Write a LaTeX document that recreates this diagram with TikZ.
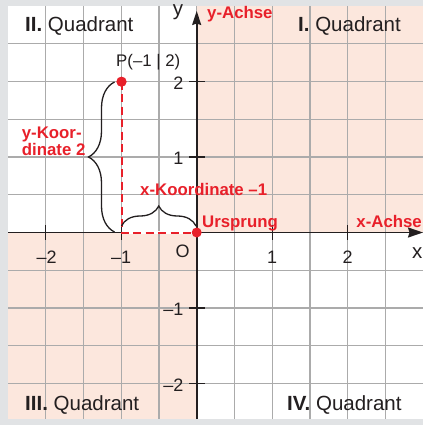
\documentclass[tikz,border=0pt]{standalone}
\usepackage{fontspec}
\setmainfont{Liberation Sans}
\usetikzlibrary{decorations.pathreplacing,arrows.meta}
\definecolor{bordergray}{HTML}{E1E3E5}
\definecolor{peach}{HTML}{FCE7DD}
\definecolor{gridgray}{HTML}{ABABAB}
\definecolor{kred}{HTML}{E8202A}
\definecolor{ink}{HTML}{231F20}
\begin{document}
\begin{tikzpicture}[x=1pt,y=-1pt,
  quad/.style={font=\fontsize{20.5}{24}\selectfont, inner sep=0pt, text=ink},
  num/.style={font=\fontsize{18}{21}\selectfont, inner sep=0pt, text=ink},
  redlbl/.style={font=\fontsize{16.8}{18}\selectfont\bfseries, text=kred, inner sep=0pt},
  gridline/.style={draw=gridgray, line width=1.3pt},
  axisline/.style={draw=ink, line width=1.8pt},
  tickline/.style={draw=ink, line width=1.3pt},
  dot/.style={circle, fill=kred, inner sep=0pt, minimum size=10pt},
  reddash/.style={draw=kred, line width=2pt, dash pattern=on 8pt off 4.5pt},
  bracestyle/.style={draw=ink, line width=1.3pt, decorate, decoration={brace, amplitude=#1}}
]
\useasboundingbox (0,0) rectangle (423,425);
% background
\fill[bordergray] (0,0) rectangle (423,425);
\fill[white] (8,6) rectangle (423,419);
\fill[peach] (196.7,6) rectangle (423,232.5);
\fill[peach] (8,232.5) rectangle (196.7,419);
% grid
\foreach \k in {-4,...,5} \draw[gridline] ({196.7+37.75*\k},6) -- ({196.7+37.75*\k},419);
\foreach \k in {-5,...,4} \draw[gridline] (8,{232.5+37.75*\k}) -- (423,{232.5+37.75*\k});
% axes
\coordinate (O) at (196.7,232.5);
\coordinate (xstart) at (8,232.5);
\coordinate (xend) at (423,232.5);
\coordinate (ystart) at (196.7,419);
\coordinate (yend) at (196.7,11);
\draw[axisline, -{Stealth[length=15pt,width=10pt,inset=1.5pt]}] (xstart) -- (xend);
\draw[axisline, -{Stealth[length=14pt,width=9pt,inset=1.5pt]}] (ystart) -- (yend);
% ticks
\foreach \k in {-2,-1,1,2} {
  \draw[tickline] ({196.7+75.5*\k},225) -- ({196.7+75.5*\k},240);
  \draw[tickline] (189,{232.5-75.5*\k}) -- (205,{232.5-75.5*\k});
}
% tick labels
\node[num, anchor=base] (xm2) at (46.7,263) {–2};
\node[num, anchor=base] (xm1) at (121.2,263) {–1};
\node[num, anchor=base] (xp1) at (272.2,263) {1};
\node[num, anchor=base] (xp2) at (347.7,263) {2};
\node[num, anchor=base east] (yp2) at (183.5,89.5) {2};
\node[num, anchor=base east] (yp1) at (183.5,164.5) {1};
\node[num, anchor=base east] (ym1) at (183.5,315.5) {–1};
\node[num, anchor=base east] (ym2) at (183.5,391) {–2};
\node[num, anchor=base] (olbl) at (182.5,257) {O};
\node[quad, anchor=base] (ylbl) at (178,15.7) {y};
\node[quad, anchor=base west] (xlbl) at (412,258) {x};
% quadrant labels
\node[quad, anchor=base west] (q2) at (25,32) {\textbf{II.} Quadrant};
\node[quad, anchor=base west] (q1) at (298,32) {\textbf{I.} Quadrant};
\node[quad, anchor=base west] (q3) at (25,410) {\textbf{III.} Quadrant};
\node[quad, anchor=base west] (q4) at (287,410) {\textbf{IV.} Quadrant};
% red labels
\node[redlbl, anchor=base west] (yachse) at (207,19) {y-Achse};
\node[redlbl, anchor=base east] (xachse) at (422,227) {x-Achse};
\node[redlbl, anchor=base west] (urspr) at (202,227) {Ursprung};
\node[redlbl, anchor=base west] (xkoord) at (140,195.7) {x-Koordinate –1};
\node[redlbl, anchor=base west, align=left] (ykoord) at (21.7,155.5) {y-Koor-\\[-1pt]dinate 2};
% point and dashed guides
\coordinate (Px) at (121.5,232.5);
\draw[white, line width=3pt] (Px) -- (O);
\node[dot] (P) at (121.5,81.7) {};
\draw[reddash] (P.center) -- (Px) -- (O);
\node[dot] (Odot) at (O) {};
\node[dot] (Pdot) at (P) {};
\node[font=\fontsize{16.8}{20}\selectfont, text=ink, inner sep=0pt, anchor=base west] (plbl) at (116,67) {P(–1 | 2)};
% braces
\coordinate (ybB) at (114.5,232);
\coordinate (ybT) at (114.5,82);
\draw[bracestyle=26] (ybB) -- (ybT);
\coordinate (xbL) at (121.5,226);
\coordinate (xbR) at (196,226);
\draw[bracestyle=20] (xbL) -- (xbR);
\end{tikzpicture}
\end{document}
